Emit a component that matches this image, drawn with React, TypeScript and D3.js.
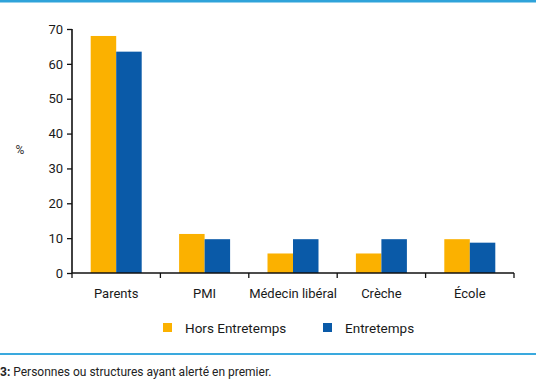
import React, { useRef, useEffect } from 'react';
import * as d3 from 'd3';

const categories = ['Parents', 'PMI', 'Médecin libéral', 'Crèche', 'École'];
const seriesNames = ['Hors Entretemps', 'Entretemps'];
const horsEntretemps = [68, 11.2, 5.6, 5.6, 9.7];
const entretemps = [63.5, 9.7, 9.7, 9.7, 8.7];
const yTicks = [0, 10, 20, 30, 40, 50, 60, 70];
const colors = ['#FBB100', '#0A5AA8'];

const App = () => {
  const svgRef = useRef<SVGSVGElement>(null);

  useEffect(() => {
    const width = 536;
    const height = 386;
    const margin = { top: 29, left: 72, right: 22, bottom: 113 };
    const font = 'Roboto, sans-serif';

    const svg = d3.select(svgRef.current)
      .attr('width', width)
      .attr('height', height)
      .style('background', 'white');

    svg.selectAll('*').remove(); // Clear previous content

    // frame lines
    svg.append('rect').attr('x', 0).attr('y', 0).attr('width', width).attr('height', 2.5).attr('fill', '#2FA3DA');
    svg.append('rect').attr('x', 0).attr('y', 353).attr('width', width).attr('height', 2).attr('fill', '#3AA9DE');

    const x0 = d3.scaleBand()
      .domain(categories)
      .range([margin.left, width - margin.right]);

    const x1 = d3.scaleBand()
      .domain(seriesNames)
      .range([0, 51])
      .padding(0);

    const y = d3.scaleLinear()
      .domain([0, 70])
      .range([height - margin.bottom, margin.top]);

    const rows = categories.map((c, i) => ({ cat: c, values: [horsEntretemps[i], entretemps[i]] }));

    const groups = svg.append('g')
      .selectAll('g')
      .data(rows)
      .enter()
      .append('g')
      .attr('transform', d => `translate(${x0(d.cat)! + x0.bandwidth() / 2 - 25.5}, 0)`);

    groups.selectAll('rect')
      .data(d => d.values.map((v, i) => ({ key: seriesNames[i], v, i })))
      .enter()
      .append('rect')
      .attr('x', d => x1(d.key)!)
      .attr('y', d => y(d.v))
      .attr('width', x1.bandwidth())
      .attr('height', d => y(0) - y(d.v))
      .attr('fill', d => colors[d.i]);

    // Y-axis
    const yAxis = svg.append('g')
      .attr('transform', `translate(${margin.left}, 0)`)
      .call(d3.axisLeft(y).tickValues(yTicks).tickSize(5).tickPadding(4));
    yAxis.select('.domain').attr('stroke', '#111').attr('stroke-width', 1.6).attr('d', `M0,${y(70)}V${y(0)}`);
    yAxis.selectAll('.tick line').attr('stroke', '#111').attr('stroke-width', 1.3);
    yAxis.selectAll('.tick text').attr('font-family', font).attr('font-size', 13).attr('fill', '#1a1a1a');

    // X-axis
    const xAxis = svg.append('g')
      .attr('transform', `translate(0, ${y(0)})`)
      .call(d3.axisBottom(x0).tickSize(0).tickPadding(16));
    xAxis.select('.domain').attr('stroke', '#111').attr('stroke-width', 1.6).attr('d', `M${margin.left},0H${width - margin.right}`);
    xAxis.selectAll('.tick text').attr('font-family', font).attr('font-size', 13).attr('fill', '#1a1a1a');

    // category separators
    svg.append('g')
      .selectAll('line')
      .data([...categories.map(c => x0(c)!), width - margin.right])
      .enter()
      .append('line')
      .attr('x1', d => d).attr('x2', d => d)
      .attr('y1', y(0)).attr('y2', y(0) + 5)
      .attr('stroke', '#111').attr('stroke-width', 1.3);

    svg.append('text')
      .attr('x', 20)
      .attr('y', 154)
      .attr('text-anchor', 'middle')
      .attr('font-family', font)
      .attr('font-size', 12)
      .attr('fill', '#333')
      .text('%');

    // legend
    const legendX = [163, 323];
    const legend = svg.append('g')
      .selectAll('g')
      .data(seriesNames)
      .enter()
      .append('g')
      .attr('transform', (d, i) => `translate(${legendX[i]}, 323)`);
    legend.append('rect').attr('width', 9).attr('height', 9).attr('fill', (d, i) => colors[i]);
    legend.append('text')
      .attr('x', 22)
      .attr('y', 9.5)
      .attr('font-family', font)
      .attr('font-size', 13.5)
      .attr('fill', '#1a1a1a')
      .text(d => d);

    // caption
    const cap = svg.append('text')
      .attr('x', 0)
      .attr('y', 376)
      .attr('font-family', font)
      .attr('font-size', 12)
      .attr('fill', '#222');
    cap.append('tspan').attr('font-weight', 'bold').text('3:');
    cap.append('tspan').text(' Personnes ou structures ayant alerté en premier.');
  }, []);

  return <svg ref={svgRef} style={{ position: 'absolute', left: 0, top: 0 }}></svg>;
};

export default App;
